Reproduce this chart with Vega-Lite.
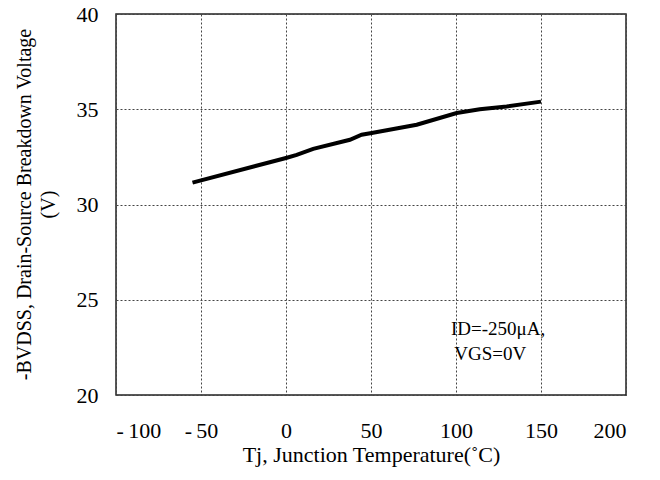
{
  "$schema": "https://vega.github.io/schema/vega-lite/v6.json",
  "width": 510,
  "height": 381,
  "autosize": "none",
  "padding": {"left": 116, "top": 14, "right": 34, "bottom": 85},
  "config": {
    "font": "Liberation Serif",
    "view": {"stroke": "#222", "strokeWidth": 1.5},
    "axis": {
      "labelFont": "Liberation Serif",
      "titleFont": "Liberation Serif",
      "labelColor": "#000",
      "titleColor": "#000",
      "titleFontWeight": "normal",
      "labelFontSize": 22,
      "titleFontSize": 22,
      "domain": false,
      "ticks": false,
      "gridColor": "#444",
      "gridDash": [2, 2],
      "gridWidth": 1,
      "gridOpacity": 1
    }
  },
  "datasets": {
    "curve": [
      {"t": -55, "v": 31.15},
      {"t": 0, "v": 32.44},
      {"t": 6.3, "v": 32.6},
      {"t": 16, "v": 32.92},
      {"t": 37.6, "v": 33.4},
      {"t": 44.5, "v": 33.66},
      {"t": 50.4, "v": 33.75},
      {"t": 76.9, "v": 34.19},
      {"t": 100.4, "v": 34.8},
      {"t": 114, "v": 35.0},
      {"t": 129.8, "v": 35.15},
      {"t": 150, "v": 35.4}
    ],
    "notes": [
      {"t": 97, "v": 23.46, "label": "ID=-250μA,"},
      {"t": 99, "v": 22.15, "label": "VGS=0V"}
    ]
  },
  "layer": [
    {
      "data": {"name": "curve"},
      "mark": {"type": "line", "color": "#000", "strokeWidth": 4},
      "encoding": {
        "x": {
          "field": "t",
          "type": "quantitative",
          "scale": {"domain": [-100, 200], "nice": false},
          "axis": {
            "values": [-100, -50, 0, 50, 100, 150, 200],
            "labelExpr": "datum.value < 0 ? '-\u2009' + abs(datum.value) : '' + datum.value",
            "labelPadding": 25,
            "title": "Tj, Junction Temperature(˚C)",
            "titlePadding": 3
          }
        },
        "y": {
          "field": "v",
          "type": "quantitative",
          "scale": {"domain": [20, 40], "nice": false, "zero": false},
          "axis": {
            "values": [20, 25, 30, 35, 40],
            "labelPadding": 18,
            "title": ["-BVDSS, Drain-Source Breakdown Voltage", "(V)"],
            "titleFontSize": 20,
            "titleLineHeight": 24,
            "titleX": -92,
            "titleY": 190,
            "titleBaseline": "middle"
          }
        }
      }
    },
    {
      "data": {"name": "notes"},
      "mark": {"type": "text", "align": "left", "baseline": "middle", "fontSize": 19, "font": "Liberation Serif", "color": "#000"},
      "encoding": {
        "x": {"field": "t", "type": "quantitative"},
        "y": {"field": "v", "type": "quantitative"},
        "text": {"field": "label"}
      }
    }
  ]
}
